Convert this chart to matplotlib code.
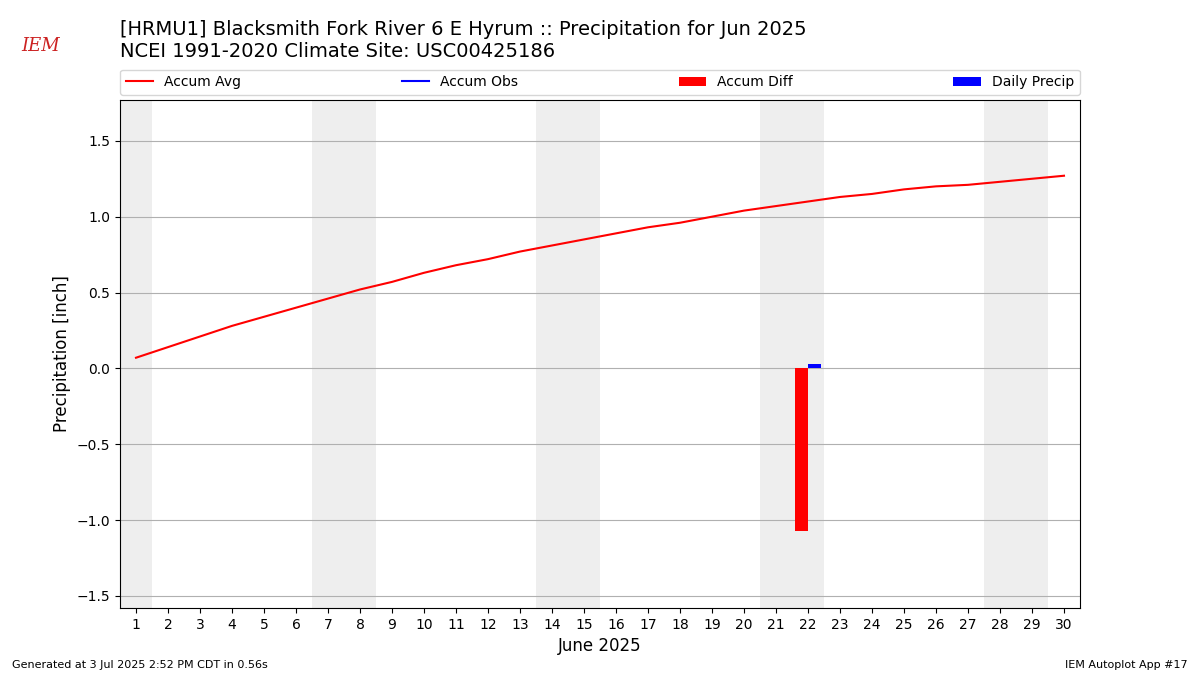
import matplotlib
matplotlib.use('Agg')
import matplotlib.pyplot as plt
import numpy as np

days = np.arange(1, 31)
accum_avg = [0.07, 0.14, 0.21, 0.28, 0.34, 0.40, 0.46, 0.52, 0.57, 0.63,
             0.68, 0.72, 0.77, 0.81, 0.85, 0.89, 0.93, 0.96, 1.00, 1.04,
             1.07, 1.10, 1.13, 1.15, 1.18, 1.20, 1.21, 1.23, 1.25, 1.27]
obs_days = [22]
accum_obs = [0.03]
daily_precip = [0.03]
accum_diff = [accum_obs[0] - accum_avg[21]]
weekends = [1, 7, 8, 14, 15, 21, 22, 28, 29]

fig = plt.figure(figsize=(12, 6.75), dpi=100)
ax = fig.add_axes([0.1, 0.0993, 0.8, 0.7527])

for d in weekends:
    ax.axvspan(d - 0.5, d + 0.5, color='#eeeeee', lw=0, zorder=0)

ax.plot(days, accum_avg, color='r', label='Accum Avg', zorder=3)
ax.plot(obs_days, accum_obs, color='b', label='Accum Obs', zorder=3)
ax.bar(np.array(obs_days) - 0.2, accum_diff, width=0.4, color='r', label='Accum Diff', zorder=2)
ax.bar(np.array(obs_days) + 0.2, daily_precip, width=0.4, color='b', label='Daily Precip', zorder=2)

ax.set_xlim(0.5, 30.5)
ax.set_ylim(-1.58, 1.77)
ax.set_xticks(days)
ax.set_yticks([-1.5, -1.0, -0.5, 0.0, 0.5, 1.0, 1.5])
ax.grid(True, axis='y', zorder=1)
ax.set_axisbelow(True)
ax.set_xlabel('June 2025', fontsize=12)
ax.set_ylabel('Precipitation [inch]', fontsize=12)
ax.legend(loc='lower left', bbox_to_anchor=(0, 1.01, 1, 0.05), ncol=4,
          mode='expand', fontsize=10, borderaxespad=0)

fig.text(0.1, 0.94, '[HRMU1] Blacksmith Fork River 6 E Hyrum :: Precipitation for Jun 2025\n'
         'NCEI 1991-2020 Climate Site: USC00425186', fontsize=14, va='center')
fig.text(0.018, 0.925, 'IEM', color='#cc2222', fontsize=13, style='italic', family='serif')
fig.text(0.01, 0.01, 'Generated at 3 Jul 2025 2:52 PM CDT in 0.56s', fontsize=8)
fig.text(0.99, 0.01, 'IEM Autoplot App #17', fontsize=8, ha='right')

fig.savefig('out.png', dpi=100)
